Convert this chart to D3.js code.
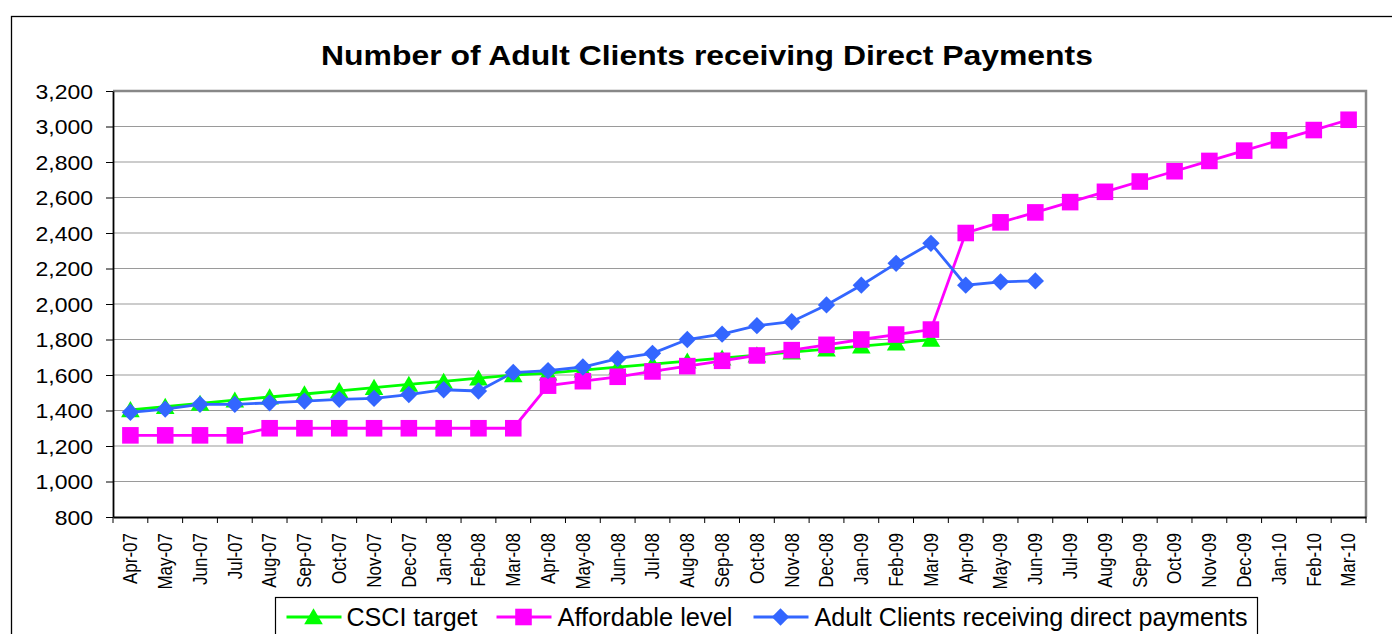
<!DOCTYPE html>
<html>
<head>
<meta charset="utf-8">
<script src="https://cdn.jsdelivr.net/npm/d3@7"></script>
<style>
  body { margin: 0; background: #fff; }
  svg { font-family: "Liberation Sans", Arial, sans-serif; }
</style>
</head>
<body>
<div id="chart"></div>
<script>
// months Apr-07 .. Mar-10
const months = ['Apr-07','May-07','Jun-07','Jul-07','Aug-07','Sep-07','Oct-07','Nov-07','Dec-07','Jan-08','Feb-08','Mar-08',
  'Apr-08','May-08','Jun-08','Jul-08','Aug-08','Sep-08','Oct-08','Nov-08','Dec-08','Jan-09','Feb-09','Mar-09',
  'Apr-09','May-09','Jun-09','Jul-09','Aug-09','Sep-09','Oct-09','Nov-09','Dec-09','Jan-10','Feb-10','Mar-10'];

const csciTarget = [1404, 1422, 1440, 1458, 1476, 1493, 1511, 1529, 1547, 1564, 1582, 1600,
  1610, 1627, 1644, 1661, 1678, 1695, 1712, 1729, 1746, 1763, 1780, 1800];

const affordable = [1260, 1260, 1260, 1260, 1300, 1300, 1300, 1300, 1300, 1300, 1300, 1300,
  1540, 1565, 1590, 1620, 1650, 1680, 1710, 1740, 1770, 1800, 1828, 1856,
  2400, 2460, 2516, 2574, 2632, 2690, 2748, 2806, 2864, 2922, 2980, 3038];

const adultClients = [1390, 1408, 1435, 1435, 1443, 1453, 1463, 1468, 1490, 1517, 1510, 1614,
  1625, 1645, 1692, 1722, 1800, 1830, 1878, 1900, 1995, 2106, 2229, 2342,
  2106, 2125, 2130];

const yTicks = [800, 1000, 1200, 1400, 1600, 1800, 2000, 2200, 2400, 2600, 2800, 3000, 3200];

const seriesList = [
  { name: 'CSCI target', values: csciTarget, color: '#00ff00', shape: 'triangle' },
  { name: 'Affordable level', values: affordable, color: '#ff00ff', shape: 'square' },
  { name: 'Adult Clients receiving direct payments', values: adultClients, color: '#3366ff', shape: 'diamond' }
];

const W = 1392, H = 634;
const margin = { left: 113, top: 91, right: W - 1366, bottom: H - 517 };
const innerW = W - margin.left - margin.right;
const innerH = H - margin.top - margin.bottom;
const stretch = 1.15; // text in the original looks horizontally stretched

const svg = d3.select('#chart').append('svg')
  .attr('width', W)
  .attr('height', H);

// outer chart frame (runs off the right and bottom edges)
svg.append('rect')
  .attr('x', 11.5).attr('y', 16.5)
  .attr('width', W).attr('height', H)
  .attr('fill', 'none').attr('stroke', '#000').attr('stroke-width', 1.3);

svg.append('text')
  .attr('x', 707).attr('y', 65)
  .attr('text-anchor', 'middle')
  .attr('font-size', 28)
  .attr('font-weight', 'bold')
  .attr('textLength', 772)
  .attr('lengthAdjust', 'spacingAndGlyphs')
  .text('Number of Adult Clients receiving Direct Payments');

const g = svg.append('g')
  .attr('transform', 'translate(' + margin.left + ',' + margin.top + ')');

const x = d3.scaleBand().domain(months).range([0, innerW]);
const y = d3.scaleLinear().domain([800, 3200]).range([innerH, 0]);

// gridlines
g.append('g')
  .selectAll('line')
  .data(yTicks.slice(1))
  .enter().append('line')
  .attr('x1', 0).attr('x2', innerW)
  .attr('y1', d => y(d)).attr('y2', d => y(d))
  .attr('stroke', '#9a9a9a').attr('stroke-width', 1.2);

// plot area border (top and right in grey)
g.append('path')
  .attr('d', 'M0,0H' + innerW + 'V' + innerH)
  .attr('fill', 'none').attr('stroke', '#888').attr('stroke-width', 2.5);

// Y axis
const yAxis = g.append('g')
  .call(d3.axisLeft(y).tickValues(yTicks).tickFormat(d3.format(',')).tickSize(7).tickSizeOuter(0));
yAxis.select('.domain').attr('stroke', '#000').attr('stroke-width', 1.8);
yAxis.selectAll('.tick line').attr('stroke', '#000');
yAxis.selectAll('.tick text')
  .attr('font-size', 20)
  .attr('x', 0)
  .attr('dy', '0.36em')
  .attr('fill', '#000')
  .attr('transform', 'translate(-20,0) scale(' + stretch + ',1)');

// X axis
const xAxis = g.append('g')
  .attr('transform', 'translate(0,' + innerH + ')')
  .call(d3.axisBottom(x).tickSize(0).tickSizeOuter(0));
xAxis.select('.domain').attr('stroke', '#000').attr('stroke-width', 1.8);
xAxis.selectAll('.tick text')
  .attr('font-size', 17)
  .attr('fill', '#000')
  .attr('transform', 'scale(' + stretch + ',1) rotate(-90)')
  .attr('text-anchor', 'end')
  .attr('x', -16)
  .attr('y', 0)
  .attr('dy', '0.35em');

// category boundary ticks
xAxis.append('g')
  .selectAll('line')
  .data(months.concat(['end']))
  .enter().append('line')
  .attr('x1', (d, i) => i * x.step())
  .attr('x2', (d, i) => i * x.step())
  .attr('y1', 0).attr('y2', 6)
  .attr('stroke', '#000');

const cx = (d, i) => x(months[i]) + x.bandwidth() / 2;

const symbolFor = {
  triangle: d3.symbol().type(d3.symbolTriangle).size(150),
  square: d3.symbol().type(d3.symbolSquare).size(275),
  diamond: d3.symbol().type(d3.symbolSquare).size(150)
};
const rot = s => (s === 'diamond' ? ' rotate(45)' : '');
const dy = s => (s === 'triangle' ? 2 : 0);

const line = d3.line().x(cx).y(d => y(d));

seriesList.forEach(s => {
  g.append('path')
    .datum(s.values)
    .attr('d', line)
    .attr('fill', 'none')
    .attr('stroke', s.color)
    .attr('stroke-width', 2.8);
  g.append('g')
    .selectAll('path')
    .data(s.values)
    .enter().append('path')
    .attr('d', symbolFor[s.shape])
    .attr('transform', (d, i) => 'translate(' + cx(d, i) + ',' + (y(d) + dy(s.shape)) + ')' + rot(s.shape))
    .attr('fill', s.color);
});

// legend
const legend = svg.append('g').attr('transform', 'translate(275.5,597.5)');
legend.append('rect')
  .attr('width', 982).attr('height', 60)
  .attr('fill', '#fff').attr('stroke', '#000').attr('stroke-width', 1.2);

const legendPos = [
  { lx: 11, tx: 71, len: 131 },
  { lx: 221, tx: 282, len: 175 },
  { lx: 478, tx: 539, len: 433 }
];
seriesList.forEach((s, i) => {
  const p = legendPos[i];
  const item = legend.append('g').attr('transform', 'translate(0,19.5)');
  item.append('line')
    .attr('x1', p.lx).attr('x2', p.lx + 55)
    .attr('stroke', s.color).attr('stroke-width', 2.8);
  item.append('path')
    .attr('d', symbolFor[s.shape])
    .attr('transform', 'translate(' + (p.lx + 27) + ',' + dy(s.shape) + ')' + rot(s.shape))
    .attr('fill', s.color);
  item.append('text')
    .attr('x', p.tx).attr('y', 9)
    .attr('font-size', 25)
    .attr('textLength', p.len)
    .attr('lengthAdjust', 'spacingAndGlyphs')
    .text(s.name);
});
</script>
</body>
</html>
